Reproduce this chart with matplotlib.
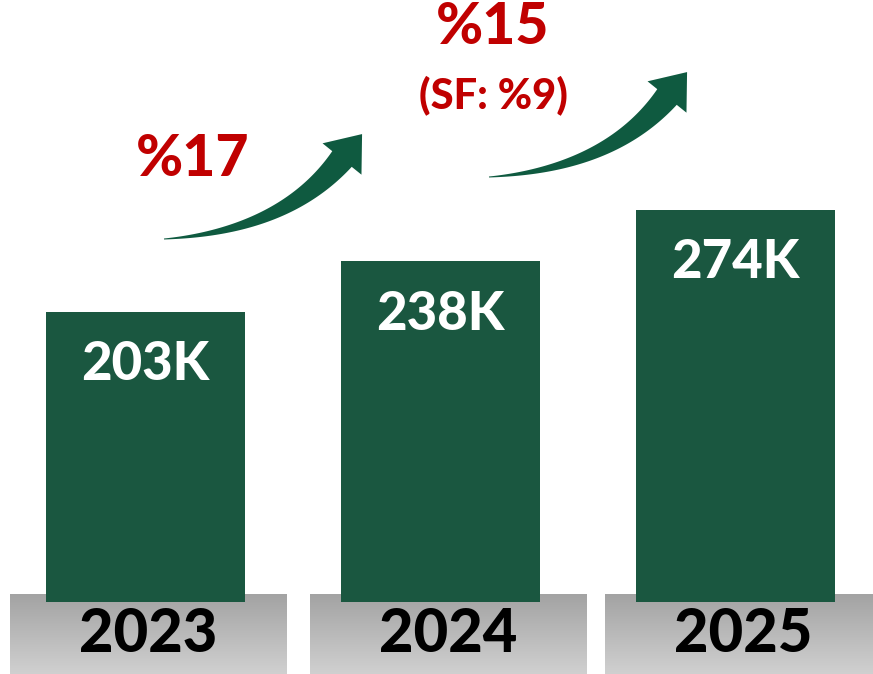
import numpy as np
import matplotlib
matplotlib.use("Agg")
import matplotlib.pyplot as plt
from matplotlib.patches import Polygon
from matplotlib.transforms import Affine2D

# ---- data ----
years = ["2023", "2024", "2025"]
values = [203, 238, 274]          # thousands
value_labels = ["203K", "238K", "274K"]
growth_labels = ["%17", "%15"]
growth_sub = ["", "(SF: %9)"]

plt.rcParams['font.family'] = ['Lato', 'DejaVu Sans']

W, H = 873, 674
fig = plt.figure(figsize=(W / 100, H / 100), dpi=100)
ax = fig.add_axes([0, 0, 1, 1])
ax.set_axis_off()

# pixel geometry -> data scaling
X0, DX = 145.5, 295.0      # bar centre pixel and spacing
Y0, SY = 602.0, 1.431      # baseline pixel and px per K
ax.set_xlim(-X0 / DX, (W - X0) / DX)
ax.set_ylim(-(H - Y0) / SY, Y0 / SY)

green = "#1a5740"
arrow_green = "#0f5a40"
red = "#c00000"
WEIGHT = 900

x = np.arange(len(values))

# gray base boxes with vertical gradient
box_w = 277 / DX
box_shift = [3, 8, 8]
box_top = (Y0 - 594) / SY
box_bot = -(H - Y0) / SY
grad = np.linspace(0, 1, 100).reshape(-1, 1)
cmap = matplotlib.colors.LinearSegmentedColormap.from_list("g", ["#a3a3a3", "#d0d0d0"])
for i, xi in enumerate(x):
    cx = xi + box_shift[i] / DX
    ax.imshow(grad, cmap=cmap, aspect="auto",
              extent=[cx - box_w / 2, cx + box_w / 2, box_bot, box_top],
              origin="upper", zorder=1)
    ax.text(cx, (Y0 - 634) / SY, years[i], ha="center", va="center",
            fontsize=43, fontweight=WEIGHT, color="black", zorder=4)

# bars
ax.bar(x, values, width=199 / DX, color=green, zorder=2, linewidth=0)
for xi, v, lab in zip(x, values, value_labels):
    ax.text(xi, v - 37, lab, ha="center", va="center", fontsize=38,
            fontweight=WEIGHT, color="white", zorder=4)

# curved tapering arrows (pixel coordinates, top-left origin)
ptrans = Affine2D().scale(1 / W, -1 / H).translate(0, 1) + fig.transFigure


def arrow_poly(dx, dy):
    P0 = np.array([164.0, 239.0])
    P2 = np.array([342.0, 159.0])
    P1 = np.array([284.0, 231.0])
    t = np.linspace(0, 1, 80)[:, None]
    B = (1 - t) ** 2 * P0 + 2 * (1 - t) * t * P1 + t ** 2 * P2
    T = 2 * (1 - t) * (P1 - P0) + 2 * t * (P2 - P1)
    T = T / np.linalg.norm(T, axis=1, keepdims=True)
    N = np.column_stack([T[:, 1], -T[:, 0]])
    w = 0.5 + 12.0 * t[:, 0] ** 1.1
    upper = B + N * w[:, None]
    lower = B - N * w[:, None]
    tang = T[-1]
    nrm = N[-1]
    head_l = P2 + nrm * 25
    head_r = P2 - nrm * 25
    tip = P2 + tang * 32
    pts = np.vstack([lower, head_r, tip, head_l, upper[::-1]])
    return pts + np.array([dx, dy])


for dx, dy in [(0, 0), (325, -62)]:
    poly = Polygon(arrow_poly(dx, dy), closed=True, facecolor=arrow_green,
                   edgecolor="none", transform=ptrans, zorder=3)
    fig.add_artist(poly)

# growth labels (pixel positions)
fig.text(193 / W, 1 - 160 / H, growth_labels[0], ha="center", va="center",
         fontsize=41, fontweight=WEIGHT, color=red)
fig.text(493 / W, 1 - 28 / H, growth_labels[1], ha="center", va="center",
         fontsize=41, fontweight=WEIGHT, color=red)
fig.text(493 / W, 1 - 95 / H, growth_sub[1], ha="center", va="center",
         fontsize=30, fontweight=WEIGHT, color=red)

fig.savefig("out.png", dpi=100, facecolor="white")
